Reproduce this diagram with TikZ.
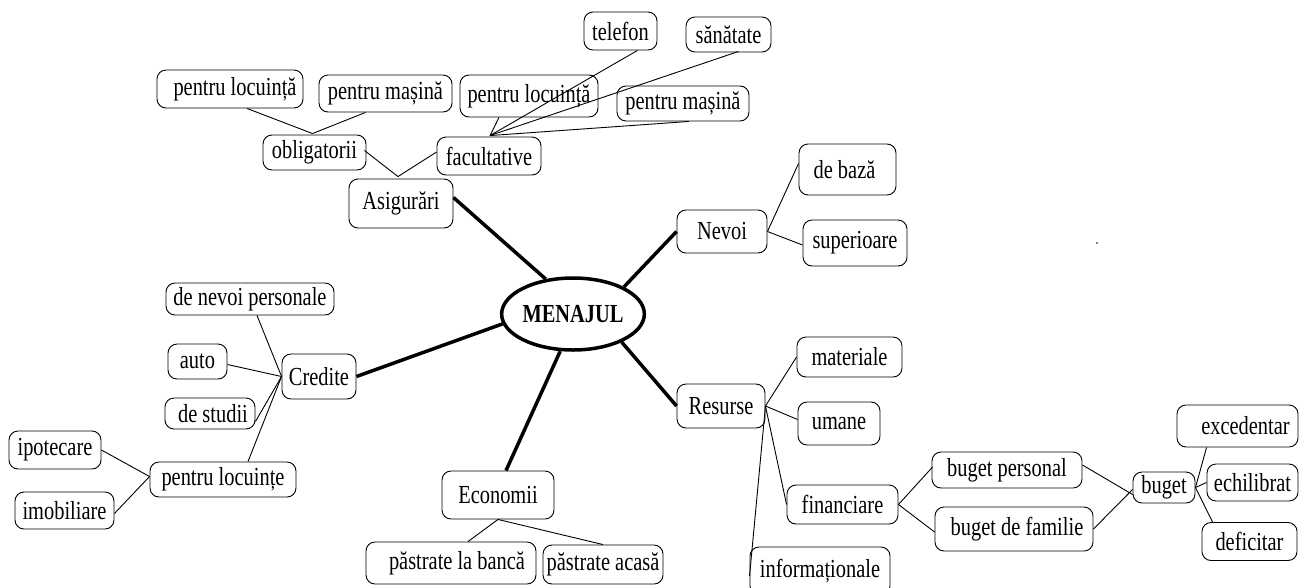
\documentclass[tikz,border=0pt]{standalone}
\usepackage{fontspec}
\setmainfont{Liberation Serif}[FakeStretch=0.785]
\usetikzlibrary{shapes.geometric,calc}
\begin{document}
\begin{tikzpicture}[x=1pt,y=-1pt,
  bx/.style={draw, rounded corners=9pt, inner sep=0pt, line width=0.9pt,
    font=\fontsize{26}{30}\selectfont},
  ln/.style={line width=0.9pt},
  heavy/.style={line width=3.5pt}]
\useasboundingbox (0,0) rectangle (1306,587);
% --- nodes
\node[bx, minimum width=73pt, minimum height=38pt] (telef) at (620.5,31) {telefon};
\node[bx, minimum width=85pt, minimum height=35pt] (sanat) at (728.5,34.5) {sănătate};
\node[bx, minimum width=146pt, minimum height=38pt] (plocL) at (230,89) {\hspace*{10pt}pentru locuință};
\node[bx, minimum width=133pt, minimum height=37pt] (pmasL) at (385.5,93.5) {pentru mașină};
\node[bx, minimum width=138pt, minimum height=42pt] (plocM) at (529,96) {pentru locuință};
\node[bx, minimum width=132pt, minimum height=35pt] (pmasR) at (683,103.5) {pentru mașină};
\node[bx, minimum width=103pt, minimum height=35pt] (oblig) at (314.5,152.5) {obligatorii};
\node[bx, minimum width=104pt, minimum height=38pt] (facul) at (489,156) {facultative};
\node[bx, minimum width=104pt, minimum height=49pt] (asig) at (401,203.5) {Asigurări};
\node[bx, minimum width=90pt, minimum height=43pt] (nevoi) at (722,231.5) {Nevoi};
\node[bx, minimum width=97pt, minimum height=51pt] (debaza) at (847.5,169.5) {de bază\hspace*{6pt}};
\node[bx, minimum width=104pt, minimum height=46pt] (super) at (855,243) {superioare};
\node[draw, ellipse, line width=3.5pt, minimum width=140pt, minimum height=72pt, inner sep=0pt,
  font=\fontsize{26}{30}\selectfont\bfseries] (menaj) at (573,314) {MENAJUL};
\node[bx, minimum width=168pt, minimum height=32pt] (denev) at (250,299) {de nevoi personale};
\node[bx, minimum width=59pt, minimum height=35pt] (auto) at (197.5,361.5) {auto};
\node[bx, minimum width=90pt, minimum height=31pt] (destud) at (210,413.5) {\hspace*{6pt}de studii};
\node[bx, minimum width=74pt, minimum height=45pt] (credite) at (319,376.5) {Credite};
\node[bx, minimum width=92pt, minimum height=38pt] (ipot) at (55,450) {ipotecare};
\node[bx, minimum width=99pt, minimum height=37pt] (imob) at (64.5,510.5) {imobiliare};
\node[bx, minimum width=146pt, minimum height=35pt] (plocinte) at (223,479.5) {pentru locuințe};
\node[bx, minimum width=112pt, minimum height=48pt] (econ) at (498,495) {Economii};
\node[bx, minimum width=170pt, minimum height=42pt] (banca) at (451,563) {\hspace*{12pt}păstrate la bancă};
\node[bx, minimum width=120pt, minimum height=39pt] (acasa) at (603,564.5) {păstrate acasă};
\node[bx, minimum width=88pt, minimum height=44pt] (resurse) at (721,406) {Resurse};
\node[bx, minimum width=105pt, minimum height=40pt] (mater) at (849.5,357) {materiale};
\node[bx, minimum width=82pt, minimum height=43pt] (umane) at (839,423.5) {umane};
\node[bx, minimum width=111pt, minimum height=39pt] (financ) at (842.5,504.5) {financiare};
\node[bx, minimum width=140pt, minimum height=48pt] (inform) at (820,571) {informaționale};
\node[bx, minimum width=150pt, minimum height=36pt] (bpers) at (1007,470) {buget personal};
\node[bx, minimum width=158pt, minimum height=44pt] (bfam) at (1014,529) {\hspace*{6pt}buget de familie};
\node[bx, minimum width=62pt, minimum height=31pt] (buget) at (1164,487.5) {buget};
\node[bx, minimum width=121pt, minimum height=42pt] (exced) at (1237.5,426) {\hspace*{16pt}excedentar};
\node[bx, minimum width=91pt, minimum height=37pt] (echil) at (1252.5,482.5) {echilibrat};
\node[bx, minimum width=95pt, minimum height=38pt] (defic) at (1249.5,541.5) {deficitar};
\fill (1097,243) circle (0.8pt);
% --- heavy connectors
\draw[heavy] ($(asig.east)+(0,-6)$) -- (menaj.128);
\draw[heavy] (nevoi.west) -- (menaj.28);
\draw[heavy] (resurse.west) -- (menaj.-30);
\draw[heavy] ($(econ.north)+(8,0)$) -- (menaj.-109);
\draw[heavy] (credite.east) -- (menaj.-172);
% --- thin connectors
\coordinate (oTop) at ($(oblig.north)+(-2,-1)$);
\coordinate (aTop) at ($(asig.north)+(-3,-2)$);
\coordinate (fTop) at ($(facul.north)+(1,-1)$);
\draw[ln] ($(plocL.south)+(17,0)$) -- (oTop);
\draw[ln] ($(pmasL.south)+(-20,0)$) -- (oTop);
\draw[ln] ($(oblig.east)+(-2,-2)$) -- (aTop);
\draw[ln] ($(facul.west)+(0,-4)$) -- (aTop);
\draw[ln] ($(plocM.south)+(-30,0)$) -- (fTop);
\draw[ln] ($(telef.south)+(17,0)$) -- (fTop);
\draw[ln] ($(sanat.south)+(10,-1)$) -- (fTop);
\draw[ln] ($(pmasR.south)+(6,0)$) -- (fTop);
\draw[ln] ($(denev.south)+(7,0)$) -- (credite.west);
\draw[ln] ($(auto.east)+(0,3)$) -- (credite.west);
\draw[ln] ($(destud.east)+(0,8)$) -- (credite.west);
\draw[ln] ($(plocinte.north)+(25,0)$) -- (credite.west);
\draw[ln] (ipot.east) -- ($(plocinte.west)+(0,-3)$);
\draw[ln] ($(imob.east)+(0,3)$) -- ($(plocinte.west)+(0,-3)$);
\draw[ln] (econ.south) -- ($(banca.north)+(17,0)$);
\draw[ln] (econ.south) -- (acasa.north);
\draw[ln] (nevoi.east) -- ($(debaza.west)+(0,-6)$);
\draw[ln] (nevoi.east) -- ($(super.west)+(0,2)$);
\draw[ln] (resurse.east) -- (mater.west);
\draw[ln] (resurse.east) -- ($(umane.west)+(0,-4)$);
\draw[ln] (resurse.east) -- (financ.west);
\draw[ln] (resurse.east) -- ($(inform.west)+(0,5)$);
\draw[ln] (financ.east) -- ($(bpers.west)+(1,-3)$);
\draw[ln] (financ.east) -- ($(bfam.west)+(0,3)$);
\draw[ln] ($(bpers.east)+(0,-5)$) -- ($(buget.west)+(0,7)$);
\draw[ln] (bfam.east) -- ($(buget.west)+(0,2)$);
\draw[ln] (buget.east) -- ($(exced.south west)+(30,0)$);
\draw[ln] (buget.east) -- (echil.west);
\draw[ln] (buget.east) -- ($(defic.north west)+(11,0)$);
\end{tikzpicture}
\end{document}
